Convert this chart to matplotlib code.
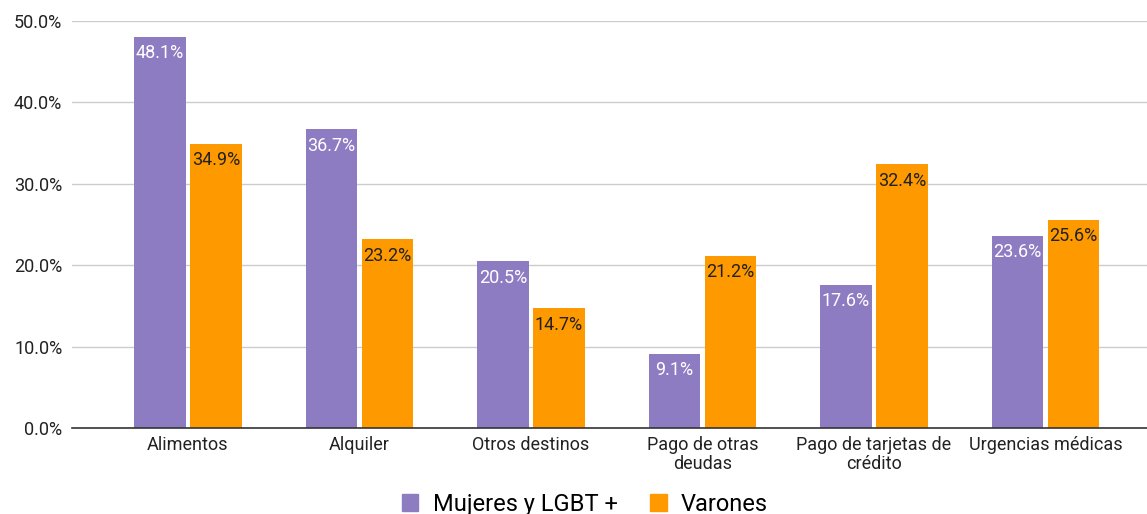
import numpy as np
import matplotlib.pyplot as plt
from matplotlib.patches import Patch

plt.rcParams['font.family'] = ['Roboto', 'DejaVu Sans']

# Data
categorias = ['Alimentos', 'Alquiler', 'Otros destinos', 'Pago de otras\ndeudas',
              'Pago de tarjetas de\ncrédito', 'Urgencias médicas']
mujeres = [48.1, 36.7, 20.5, 9.1, 17.6, 23.6]
varones = [34.9, 23.2, 14.7, 21.2, 32.4, 25.6]
series = ['Mujeres y LGBT +', 'Varones']

c_muj = '#8e7cc3'
c_var = '#ff9900'

fig = plt.figure(figsize=(11.47, 5.14), dpi=100)
ax = fig.add_axes([0.0628, 0.167, 0.937, 0.792])

x = np.arange(len(categorias))
w = 0.30
off = 0.163
b1 = ax.bar(x - off, mujeres, w, color=c_muj, zorder=3)
b2 = ax.bar(x + off, varones, w, color=c_var, zorder=3)

# value labels inside the bar tops
for rect, v in zip(b1, mujeres):
    ax.text(rect.get_x() + rect.get_width() / 2, v - 0.9, f'{v:.1f}%',
            ha='center', va='top', color='white', fontsize=13, zorder=4)
for rect, v in zip(b2, varones):
    ax.text(rect.get_x() + rect.get_width() / 2, v - 0.9, f'{v:.1f}%',
            ha='center', va='top', color='#222222', fontsize=13, zorder=4)

ax.set_ylim(0, 50)
ax.set_xlim(-0.675, 5.59)
ax.set_yticks(np.arange(0, 51, 10))
ax.set_yticklabels([f'{t:.1f}%' for t in np.arange(0, 51, 10)], fontsize=13, color='#222222')
ax.set_xticks(x)
ax.set_xticklabels(categorias, fontsize=13, color='#222222', linespacing=1.05)
ax.tick_params(length=0, pad=6)
ax.tick_params(axis='y', pad=7)

ax.grid(axis='y', color='#cccccc', linewidth=1, zorder=0)
for s in ['top', 'right', 'left']:
    ax.spines[s].set_visible(False)
ax.spines['bottom'].set_color('#333333')
ax.spines['bottom'].set_linewidth(1.2)
ax.spines['bottom'].set_zorder(5)

handles = [Patch(color=c_muj), Patch(color=c_var)]
fig.legend(handles, series, loc='lower center', bbox_to_anchor=(0.51, -0.045), ncol=2,
           frameon=False, fontsize=17, handlelength=0.7, handleheight=0.7,
           handletextpad=0.6, columnspacing=1.4)

fig.savefig('out.png', dpi=100)
